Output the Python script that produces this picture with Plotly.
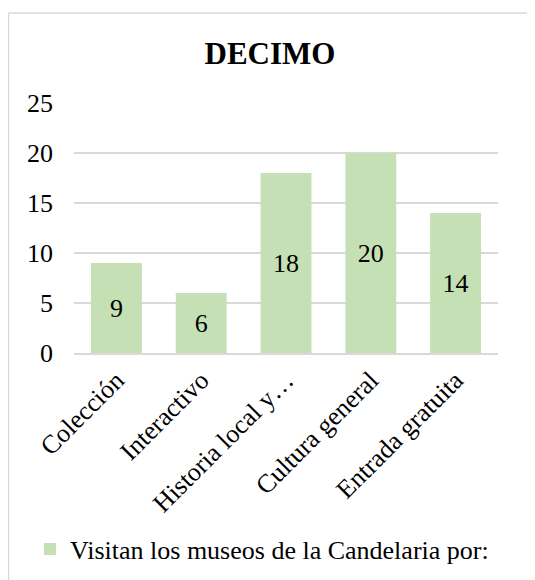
import plotly.graph_objects as go

# Data
categories = ["Colección", "Interactivo", "Historia local y…", "Cultura general", "Entrada gratuita"]
values = [9, 6, 18, 20, 14]
series_name = "Visitan los museos de la Candelaria por:"
chart_title = "DECIMO"

bar_color = "#C5E0B4"
grid_color = "#D9D9D9"
serif = "Liberation Serif, Times New Roman, serif"

# page body has an 8px margin, so the figure is drawn 8px smaller
W, H = 527, 572
left, right, top, bottom = 66, 37, 95, 227
plot_w = W - left - right
plot_h = H - top - bottom

fig = go.Figure(go.Bar(
    x=categories,
    y=values,
    name=series_name,
    marker=dict(color=bar_color, line=dict(width=0)),
    text=values,
    textposition="inside",
    insidetextanchor="middle",
    textangle=0,
    constraintext="none",
    textfont=dict(family=serif, size=26, color="black"),
    showlegend=True,
))

border_x = (0.5 - left) / plot_w
border_y = (plot_h + top - 5) / plot_h

fig.update_layout(
    width=W,
    height=H,
    margin=dict(l=left, r=right, t=top, b=bottom, autoexpand=False),
    paper_bgcolor="white",
    plot_bgcolor="white",
    font=dict(family=serif, size=26, color="black"),
    title=dict(text="<b>" + chart_title + "</b>", x=(270 - 8) / W, xanchor="center",
               y=1 - 45 / H, yanchor="middle",
               font=dict(family=serif, size=31, color="black")),
    bargap=0.4,
    legend=dict(orientation="h", x=(262 - 8 - left) / plot_w, xanchor="center",
                yref="container", y=1 - 541 / H, yanchor="middle",
                font=dict(family=serif, size=26, color="black"),
                itemwidth=30),
    xaxis=dict(tickangle=-45, showline=True, linecolor=grid_color, linewidth=1.5,
               showgrid=False, ticks="", tickfont=dict(family=serif, size=26)),
    yaxis=dict(range=[0, 25], dtick=5, showgrid=True, gridcolor=grid_color, gridwidth=1.5,
               zeroline=False, showline=False, ticks="", ticklabelstandoff=20,
               tickfont=dict(family=serif, size=26)),
    shapes=[
        dict(type="line", xref="paper", yref="paper", x0=border_x, x1=1.2, y0=border_y, y1=border_y,
             line=dict(color=grid_color, width=1.5)),
        dict(type="line", xref="paper", yref="paper", x0=border_x, x1=border_x, y0=-1.2, y1=border_y,
             line=dict(color=grid_color, width=1.5)),
    ],
)

fig.write_html("out.html")
